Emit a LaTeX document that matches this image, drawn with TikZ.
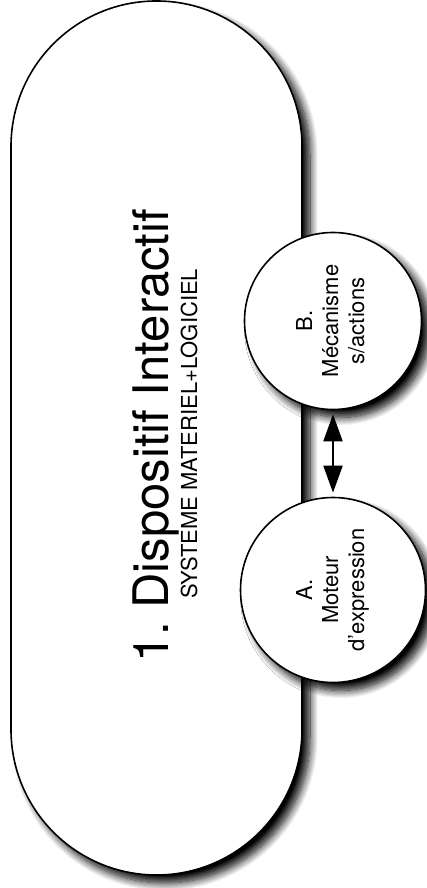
\documentclass[tikz,border=0pt]{standalone}
\usepackage{fontspec}
\usepackage{graphicx}
\setmainfont{TeX Gyre Heros}
\usetikzlibrary{arrows.meta, shadows.blur}
\frenchspacing

\tikzset{
  ombre/.style={blur shadow={shadow xshift=8pt, shadow yshift=-8pt, shadow blur radius=8pt, shadow blur steps=12, shadow opacity=100}},
  bulle/.style={circle, draw, line width=1.6pt, fill=white, ombre, inner sep=0pt, font=\fontsize{22}{26}\selectfont},
  fleche/.style={line width=2pt, {Triangle[length=27pt, width=19pt]}-{Triangle[length=27pt, width=19pt]}, shorten <=4pt, shorten >=4pt}
}

\begin{document}
\begin{tikzpicture}[x=1pt, y=1pt]
  \useasboundingbox (0,0) rectangle (427,888);
  % Dispositif (stade)
  \node[draw, line width=1.6pt, fill=white, ombre, rectangle, rounded corners=145.5pt,
    minimum width=291pt, minimum height=874pt, inner sep=0pt] (dispositif) at (156.5,450) {};
  % Titres
  \node[rotate=90, anchor=base, font=\fontsize{49}{58}\selectfont] (titre) at (168,452) {1. Dispositif Interactif};
  \node[rotate=90, anchor=base, font=\fontsize{22}{26}\selectfont] (soustitre) at (197,454) {SYSTEME MATERIEL+LOGICIEL};
  % Modules A et B
  \node[bulle, minimum size=177pt] (mecanisme) at (333,567)
    {\rotatebox{90}{\begin{tabular}{@{}c@{}}B.\\M\'ecanisme\\s/actions\end{tabular}}};
  \node[bulle, minimum size=185pt] (moteur) at (333,298)
    {\rotatebox{90}{\begin{tabular}{@{}c@{}}A.\\Moteur\\d'expression\end{tabular}}};
  % Liaison
  \draw[fleche] (mecanisme) -- (moteur);
\end{tikzpicture}
\end{document}
